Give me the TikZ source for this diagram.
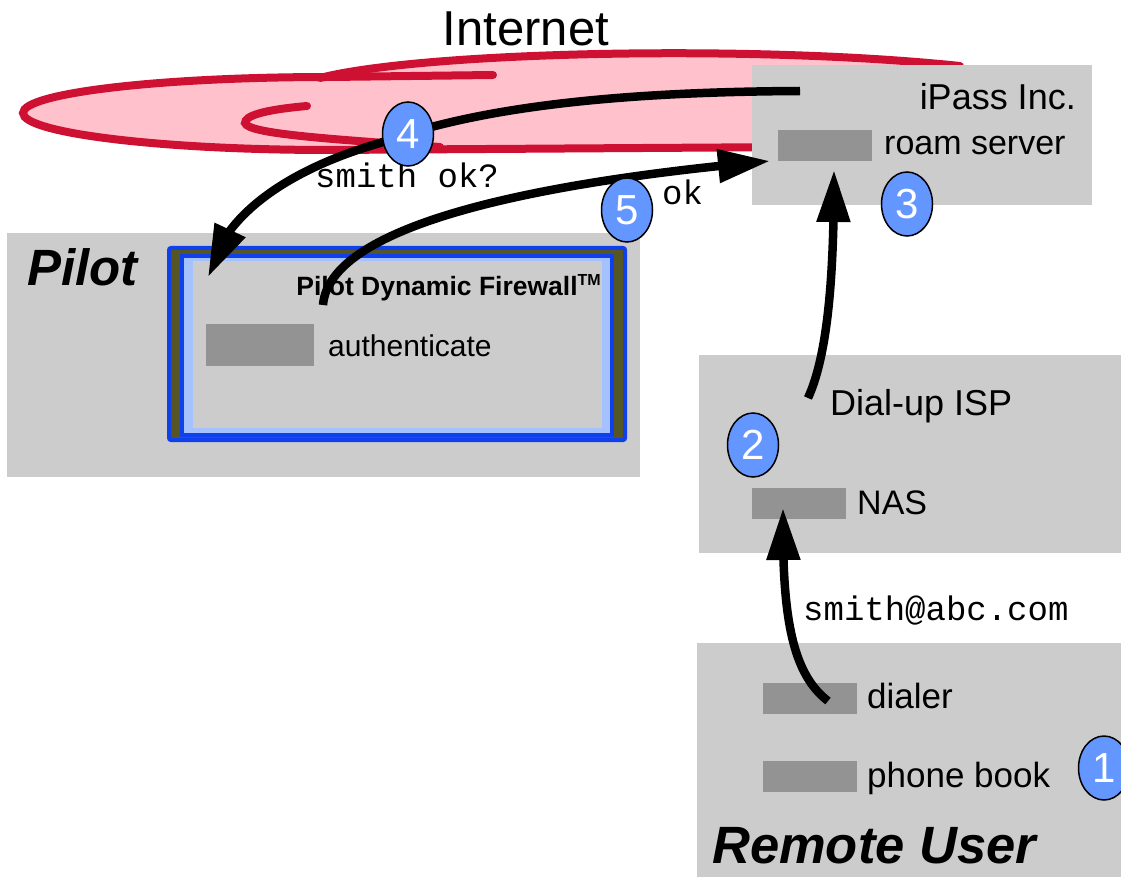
\documentclass[tikz,border=0pt]{standalone}
\usepackage{fontspec}
\setmainfont{Liberation Sans}
\setmonofont{Liberation Mono}
\usetikzlibrary{arrows.meta,bending,shapes.geometric}
\definecolor{boxgray}{RGB}{204,204,204}
\definecolor{slotgray}{RGB}{147,147,147}
\definecolor{netred}{RGB}{206,16,50}
\definecolor{netpink}{RGB}{255,194,204}
\definecolor{fwblue}{RGB}{16,64,235}
\definecolor{fwolive}{RGB}{85,85,38}
\definecolor{fwlight}{RGB}{164,194,255}
\definecolor{stepblue}{RGB}{100,150,255}
\newcommand{\setfs}[1]{\fontsize{#1}{#1}\selectfont}
\begin{document}
\begin{tikzpicture}[x=1pt,y=-1pt,
	panel/.style={fill=boxgray,anchor=north west,inner sep=0pt},
	slot/.style={fill=slotgray,anchor=north west,inner sep=0pt,minimum width=94pt,minimum height=31pt},
	lbl/.style={anchor=base west,inner sep=0pt,font=\setfs{34}},
	msg/.style={anchor=base west,inner sep=0pt,font=\ttfamily\setfs{34}},
	netline/.style={netred,line width=8pt,line cap=round},
	flow/.style={line width=8.5pt,-{Triangle[length=52pt,width=32pt]}},
	num/.style={ellipse,draw,line width=1.5pt,fill=stepblue,text=white,minimum width=51pt,minimum height=64pt,inner sep=0pt,font=\setfs{42}}]
	\useasboundingbox (0,0) rectangle (1121,877);
	\node[anchor=base,inner sep=0pt,font=\setfs{49}] (inet) at (526,46) {Internet};
	\fill[netpink] (23,113) .. controls (23,93) and (160,76) .. (320,77) .. controls (420,52) and (750,44) .. (960,66) -- (960,148) -- (330,150) .. controls (160,150) and (23,133) .. (23,113) -- cycle;
	\draw[netline] (493,75) -- (330,77) .. controls (160,77) and (23,93) .. (23,113) .. controls (23,133) and (160,150) .. (330,150) -- (800,147);
	\draw[netline] (320,78) .. controls (420,52) and (750,44) .. (960,66);
	\draw[netline] (307,106) .. controls (262,110) and (245,116) .. (245,123) .. controls (248,134) and (330,139) .. (440,147);
	\node[panel,minimum width=340pt,minimum height=140pt] (ipass) at (752,65) {};
	\node[panel,minimum width=633pt,minimum height=244pt] (pilot) at (7,233) {};
	\node[panel,minimum width=422pt,minimum height=198pt] (isp) at (699,355) {};
	\node[panel,minimum width=424pt,minimum height=234pt] (remote) at (697,643) {};
	\draw[fwblue,line width=4pt,fill=fwolive,rounded corners=2pt] (169,248) rectangle (625,440);
	\draw[fwblue,line width=4pt,fill=fwlight] (182,256) rectangle (612,435);
	\fill[boxgray] (193,261) rectangle (602,428);
	\node[slot] (roamslot) at (778,130) {};
	\node[slot,minimum width=108pt,minimum height=42pt] (authslot) at (206,324) {};
	\node[slot] (nasslot) at (752,488) {};
	\node[slot] (dialslot) at (763,683) {};
	\node[slot] (bookslot) at (763,761) {};
	\node[lbl,anchor=base east,font=\setfs{36}] (ipasslbl) at (1076,110) {iPass Inc.};
	\node[lbl] (roamlbl) at (884,155) {roam server};
	\node[lbl,font=\bfseries\itshape\setfs{51}] (pilotlbl) at (27,285) {Pilot};
	\node[lbl,anchor=base east,font=\bfseries\setfs{26.5}] (fwlbl) at (601,295) {Pilot Dynamic Firewall\raisebox{9.5pt}{\setfs{16}TM}};
	\node[lbl,font=\setfs{30}] (authlbl) at (328,356) {authenticate};
	\node[lbl,font=\setfs{36}] (isplbl) at (830,415) {Dial-up ISP};
	\node[lbl] (naslbl) at (857,514) {NAS};
	\node[lbl,font=\setfs{35}] (diallbl) at (867,708) {dialer};
	\node[lbl,font=\setfs{35}] (booklbl) at (867,787) {phone book};
	\node[lbl,font=\bfseries\itshape\setfs{52.5}] (remotelbl) at (712,863) {Remote User};
	\node[msg] (askmsg) at (315,188) {smith ok?};
	\node[msg] (okmsg) at (662,205) {ok};
	\node[msg] (usermsg) at (803,620) {smith@abc.com};
	\coordinate (dialout) at (828,701);
	\coordinate (nasin) at (783,508);
	\coordinate (ispout) at (808,398);
	\coordinate (roamin) at (834,170);
	\coordinate (ipassout) at (800,91);
	\coordinate (fwin) at (208,277);
	\coordinate (fwout) at (323,305);
	\coordinate (roamback) at (770,161);
	\draw[flow] (dialout) .. controls (790,672) and (782,610) .. (nasin);
	\draw[flow] (ispout) .. controls (830,350) and (834,260) .. (roamin);
	\draw[flow] (ipassout) .. controls (600,92) and (470,110) .. (380,143) .. controls (320,160) and (225,200) .. (fwin);
	\draw[flow] (fwout) .. controls (330,220) and (560,180) .. (roamback);
	\node[num] (stepa) at (1104,768) {1};
	\node[num] (stepb) at (753,445) {2};
	\node[num] (stepc) at (907,204) {3};
	\node[num] (stepd) at (408,134) {4};
	\node[num] (stepe) at (627,210) {5};
\end{tikzpicture}
\end{document}
